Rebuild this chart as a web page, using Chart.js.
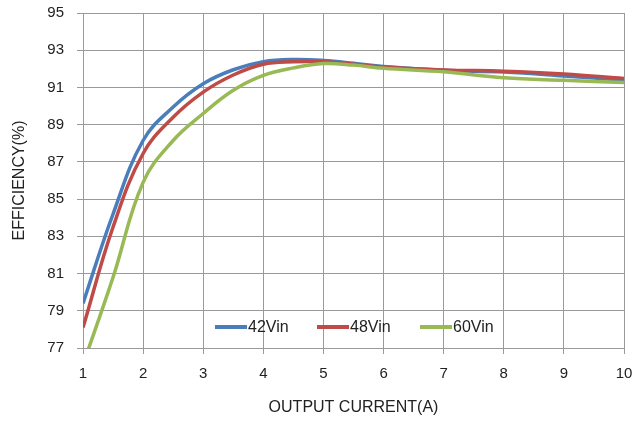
<!DOCTYPE html>
<html><head><meta charset="utf-8">
<script src="https://cdn.jsdelivr.net/npm/chart.js@4"></script>
<style>html,body{margin:0;padding:0;background:#fff}#wrap{width:637px;height:421px}</style>
</head><body><div id="wrap"><canvas id="c"></canvas></div>
<script>
const xValues = [1, 1.5, 2, 2.5, 3, 3.5, 4, 4.5, 5, 5.5, 6, 7, 8, 9, 10];
const vin42 = [79.4, 84.2, 88.15, 89.95, 91.2, 91.95, 92.38, 92.5, 92.45, 92.3, 92.12, 91.92, 91.83, 91.62, 91.38];
const vin48 = [78.1, 83.5, 87.45, 89.4, 90.75, 91.67, 92.25, 92.38, 92.38, 92.25, 92.1, 91.94, 91.87, 91.72, 91.48];
const vin60 = [76.1, 80.8, 85.9, 88.15, 89.6, 90.85, 91.65, 92.05, 92.28, 92.2, 92.03, 91.84, 91.52, 91.38, 91.27];
const seriesNames = ['42Vin', '48Vin', '60Vin'];
const yTicks = [77, 79, 81, 83, 85, 87, 89, 91, 93, 95];

const colors = ['#4a7ebb', '#be4b48', '#98b954'];
const all = [vin42, vin48, vin60];
const datasets = all.map((arr, i) => ({
  label: seriesNames[i],
  data: xValues.map((x, j) => ({x: x, y: arr[j]})),
  borderColor: colors[i], backgroundColor: colors[i],
  borderWidth: 3.5, pointRadius: 0, tension: 0.4, fill: false
}));
datasets.reverse();

const legendPlugin = {
  id: 'inLegend',
  afterDatasetsDraw(chart) {
    const ctx = chart.ctx;
    const starts = [215, 317, 420];
    ctx.save();
    ctx.font = '16px "Liberation Sans", sans-serif';
    ctx.textBaseline = 'middle';
    seriesNames.forEach((n, i) => {
      const y = 327;
      ctx.strokeStyle = colors[i]; ctx.lineWidth = 4;
      ctx.beginPath(); ctx.moveTo(starts[i], y); ctx.lineTo(starts[i] + 32, y); ctx.stroke();
      ctx.fillStyle = '#222';
      ctx.fillText(n, starts[i] + 33, y + 1);
    });
    ctx.restore();
  }
};

new Chart(document.getElementById('c'), {
  type: 'line',
  data: { datasets },
  options: {
    responsive: true, maintainAspectRatio: false, animation: false,
    layout: { padding: { top: 13, right: 13, left: 0, bottom: 0 } },
    plugins: { legend: { display: false }, tooltip: { enabled: false } },
    scales: {
      x: {
        type: 'linear', min: 1, max: 10,
        afterBuildTicks: (s) => { s.ticks = xValues.filter(v => Number.isInteger(v)).map(v => ({value: v})); },
        grid: { color: '#9a9a9a', lineWidth: 1, tickLength: 6, drawTicks: true },
        border: { color: '#9a9a9a' },
        ticks: { color: '#222', font: { family: 'Liberation Sans', size: 15 }, padding: 11, maxRotation: 0 },
        title: { display: true, text: 'OUTPUT CURRENT(A)', color: '#222', font: { family: 'Liberation Sans', size: 16 }, padding: { top: 0, bottom: 4 } },
        afterFit: (s) => { s.height = 73; s.paddingLeft = 0; s.paddingRight = 0; }
      },
      y: {
        min: 77, max: 95,
        afterBuildTicks: (s) => { s.ticks = yTicks.map(v => ({value: v})); },
        grid: { color: '#9a9a9a', lineWidth: 1, tickLength: 6, drawTicks: true },
        border: { color: '#9a9a9a' },
        ticks: { color: '#222', font: { family: 'Liberation Sans', size: 15 }, padding: 13 },
        title: { display: true, text: 'EFFICIENCY(%)', color: '#222', font: { family: 'Liberation Sans', size: 16 }, padding: { top: 10, bottom: 0 } },
        afterFit: (s) => { s.width = 83; s.paddingTop = 0; s.paddingBottom = 0; }
      }
    }
  },
  plugins: [legendPlugin]
});
</script></body></html>
